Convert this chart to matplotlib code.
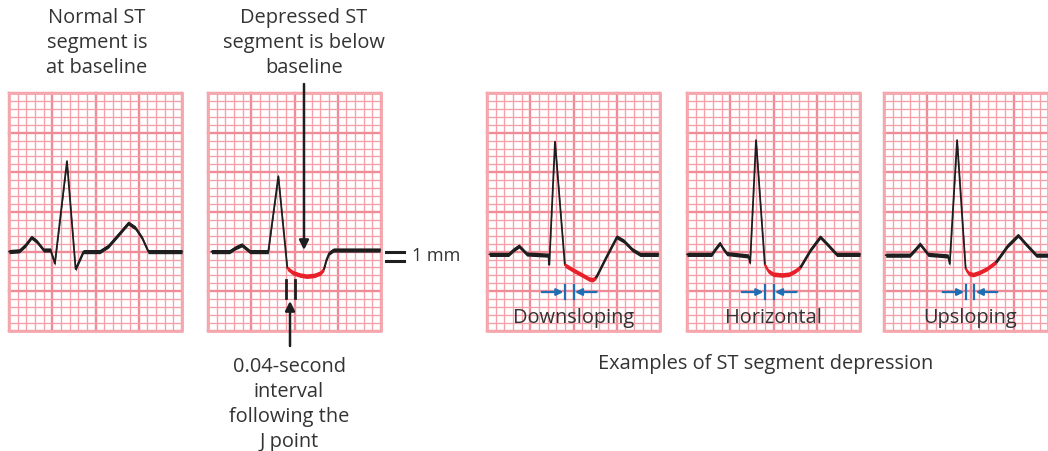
import matplotlib
matplotlib.use("Agg")
import matplotlib.pyplot as plt
import numpy as np

# ---- layout (pixels) ----
W, H = 1048, 452
SX, SY = 8.65, 7.93          # one small square
PANEL_X = [9, 208, 487, 687, 884]
PANEL_Y = 94
PANEL_COLS = [20, 20, 20, 20, 19]
ROWS = 30
BASE_ROW = [20, 20, 20.35, 20.35, 20.45]

GRID_MINOR = "#f3a0a8"
GRID_MAJOR = "#ef8c97"
INK = "#1e1e1e"
RED = "#e8202a"
BLUE = "#1f6db3"
TXT = "#333333"
FONT = "Open Sans"
FS = 14.4

# ---- waveforms: t in small squares, v in mm (up positive) ----
# panel 1 - normal ST
p1_t = [0, 1.2, 1.9, 2.6, 3.2, 4.0, 4.8, 5.3, 6.7, 7.7, 8.6, 10.5, 11.5, 12.7, 13.8, 14.6, 15.4, 16.1, 20]
p1_v = [0, 0.1, 0.8, 1.8, 1.3, 0.2, 0.2, -1.5, 11.4, -2.2, 0, 0, 0.7, 2.2, 3.6, 3.0, 1.7, 0, 0]

# panel 2 - depressed ST
p2_t = [0.4, 2.5, 3.2, 3.9, 4.4, 4.85, 6.97, 8.13, 9.17]
p2_v = [0, 0, 0.5, 0.85, 0.4, 0, 0, 9.5, -2.1]
p2_st_t = [9.17, 9.8, 10.6, 11.4, 12.3, 13.0, 13.4]
p2_st_v = [-2.1, -2.65, -2.95, -3.1, -3.0, -2.7, -2.2]
p2_end_t = [13.4, 13.7, 14.0, 14.5, 19.9]
p2_end_v = [-2.2, -1.0, -0.2, 0.2, 0.2]

# panel 3 - downsloping
p3_t = [0.27, 2.5, 3.1, 3.7, 4.2, 4.6, 7.1, 7.2, 7.86, 9.0]
p3_v = [0, 0, 0.6, 1.05, 0.5, 0.05, -0.1, -1.3, 14.2, -1.35]
p3_st_t = [9.0, 10.0, 11.0, 11.8, 12.2, 12.6]
p3_st_v = [-1.35, -2.0, -2.6, -3.1, -3.2, -2.9]
p3_end_t = [12.6, 13.8, 15.0, 15.8, 16.8, 17.7, 19.8]
p3_end_v = [-2.9, -0.3, 2.2, 1.7, 0.6, 0, 0]

# panel 4 - horizontal
p4_t = [0, 2.85, 3.3, 3.8, 4.2, 4.6, 7.1, 7.3, 7.98, 9.0]
p4_v = [0, 0, 0.7, 1.4, 0.7, 0.1, -0.2, -1.1, 14.4, -1.35]
p4_st_t = [9.0, 9.4, 9.97, 11.0, 11.8, 12.5, 13.1]
p4_st_v = [-1.35, -2.1, -2.5, -2.6, -2.5, -2.1, -1.6]
p4_end_t = [13.1, 14.3, 15.4, 16.2, 17.3, 20]
p4_end_v = [-1.6, 0.6, 2.2, 1.3, 0, 0]

# panel 5 - upsloping
p5_t = [0.2, 3.0, 3.6, 4.16, 4.6, 5.1, 7.4, 7.6, 8.45, 9.44]
p5_v = [0, 0, 0.7, 1.4, 0.8, 0.1, -0.1, -1.1, 14.5, -1.75]
p5_st_t = [9.44, 9.8, 10.3, 11.0, 11.9, 12.95]
p5_st_v = [-1.75, -2.3, -2.45, -2.2, -1.7, -0.85]
p5_end_t = [12.95, 14.3, 15.5, 16.4, 17.6, 19]
p5_end_v = [-0.85, 1.2, 2.5, 1.4, 0, 0]

# J point (t in small squares) for the 0.04 s markers
j_markers = {2: 9.0, 3: 9.0, 4: 9.44}
sub_labels = ["Downsloping", "Horizontal", "Upsloping"]

fig = plt.figure(figsize=(W / 100, H / 100), dpi=100)
ax = fig.add_axes([0, 0, 1, 1])
ax.set_xlim(0, W)
ax.set_ylim(H, 0)
ax.axis("off")


def px(i, t):
    return PANEL_X[i] + np.asarray(t, float) * SX


def py(i, v):
    return PANEL_Y + (BASE_ROW[i] - np.asarray(v, float)) * SY


def grid(i):
    x0, y0 = PANEL_X[i], PANEL_Y
    nc = PANEL_COLS[i]
    x1, y1 = x0 + nc * SX, y0 + ROWS * SY
    for c in range(nc + 1):
        major = c % 5 == 0
        ax.plot([x0 + c * SX] * 2, [y0, y1], color=GRID_MAJOR if major else GRID_MINOR,
                lw=1.7 if major else 0.95, zorder=1)
    for r in range(ROWS + 1):
        major = r % 5 == 0
        ax.plot([x0, x1], [y0 + r * SY] * 2, color=GRID_MAJOR if major else GRID_MINOR,
                lw=1.7 if major else 0.95, zorder=1)
    ax.plot([x0, x1, x1, x0, x0], [y0, y0, y1, y1, y0], color="#f5a8ae", lw=2.0, zorder=1)


def stroke(i, t, v, color, half=2.1):
    # pen-like stroke: thick where flat, thin on the steep spikes
    x = px(i, t)
    y = py(i, v)
    ax.fill_between(x, y - half, y + half, color=color, lw=0, zorder=3)
    ax.plot(x, y, color=color, lw=1.3, solid_capstyle="round", solid_joinstyle="round", zorder=4)


for i in range(5):
    grid(i)

stroke(0, p1_t, p1_v, INK)
stroke(1, p2_t, p2_v, INK)
stroke(1, p2_st_t, p2_st_v, RED, 2.3)
stroke(1, p2_end_t, p2_end_v, INK)
for i, (a, b, c) in zip([2, 3, 4], [(p3_t, p3_v, (p3_st_t, p3_st_v, p3_end_t, p3_end_v)),
                                    (p4_t, p4_v, (p4_st_t, p4_st_v, p4_end_t, p4_end_v)),
                                    (p5_t, p5_v, (p5_st_t, p5_st_v, p5_end_t, p5_end_v))]):
    stroke(i, a, b, INK)
    stroke(i, c[0], c[1], RED, 2.3)
    stroke(i, c[2], c[3], INK)

# blue 0.04 s brackets and labels
for k, i in enumerate([2, 3, 4]):
    xa = px(i, j_markers[i])
    xb = xa + SX
    yb = PANEL_Y + 25.1 * SY
    for xx in (xa, xb):
        ax.plot([xx, xx], [yb - 7, yb + 7], color=BLUE, lw=1.6, zorder=5)
    ax.annotate("", xy=(xa - 1.5, yb), xytext=(xa - 23, yb),
                arrowprops=dict(arrowstyle="-|>", color=BLUE, lw=1.6, mutation_scale=10,
                                shrinkA=0, shrinkB=0), zorder=5)
    ax.annotate("", xy=(xb + 1.5, yb), xytext=(xb + 23, yb),
                arrowprops=dict(arrowstyle="-|>", color=BLUE, lw=1.6, mutation_scale=10,
                                shrinkA=0, shrinkB=0), zorder=5)
    cx = PANEL_X[i] + 10 * SX
    ax.text(cx, 318, sub_labels[k], ha="center", va="center", fontsize=FS,
            family=FONT, color=TXT, zorder=6)

# panel 2 annotations
for xx in (286, 294.5):
    ax.plot([xx, xx], [281, 299], color=INK, lw=2.0, zorder=5)
ax.annotate("", xy=(304, 251), xytext=(304, 85),
            arrowprops=dict(arrowstyle="-|>", color=INK, lw=1.8, mutation_scale=14,
                            shrinkA=0, shrinkB=0), zorder=5)
ax.annotate("", xy=(290, 302), xytext=(290, 347),
            arrowprops=dict(arrowstyle="-|>", color=INK, lw=1.8, mutation_scale=14,
                            shrinkA=0, shrinkB=0), zorder=5)

# 1 mm marker
for yy in (252.7, 261.5):
    ax.plot([386, 404], [yy, yy], color=INK, lw=2.2, zorder=5)
ax.text(412, 256, "1 mm", ha="left", va="center", fontsize=13, family=FONT, color=TXT)

# captions
ax.text(97, 8, "Normal ST\nsegment is\nat baseline", ha="center", va="top",
        fontsize=FS, family=FONT, color=TXT, linespacing=1.33)
ax.text(304, 8, "Depressed ST\nsegment is below\nbaseline", ha="center", va="top",
        fontsize=FS, family=FONT, color=TXT, linespacing=1.33)
ax.text(289, 357.5, "0.04-second\ninterval\nfollowing the\nJ point", ha="center", va="top",
        fontsize=FS, family=FONT, color=TXT, linespacing=1.33)
ax.text(766, 364, "Examples of ST segment depression", ha="center", va="center",
        fontsize=FS, family=FONT, color=TXT)

fig.savefig("out.png", dpi=100)
